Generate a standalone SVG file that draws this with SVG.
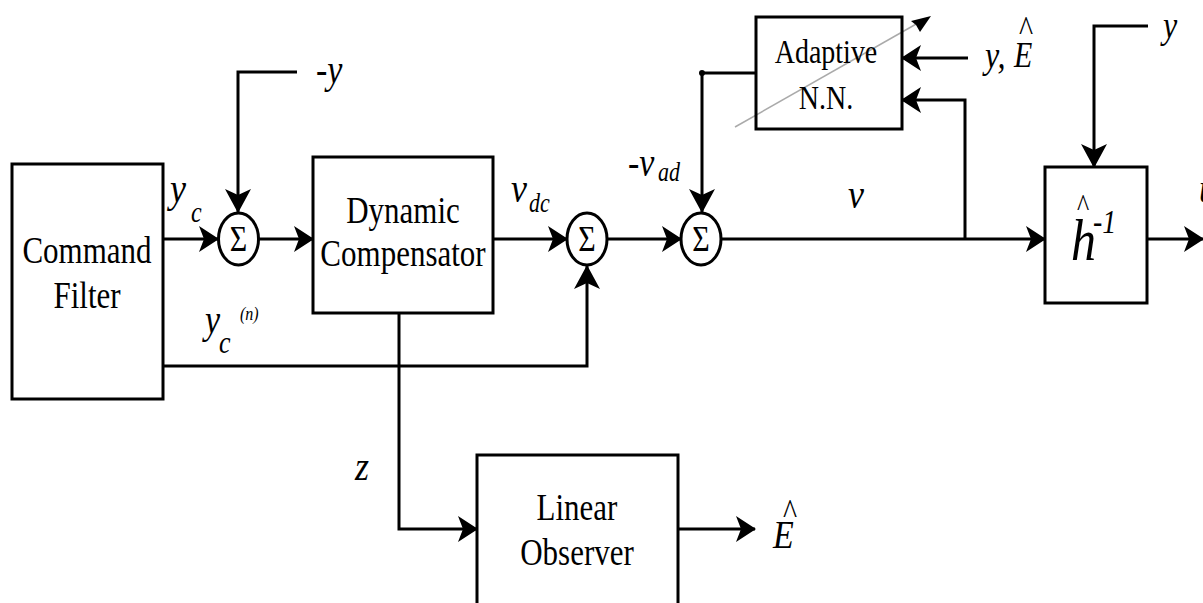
<svg xmlns="http://www.w3.org/2000/svg" width="1203" height="603" viewBox="0 0 1203 603">
<style>
.box{fill:#fff;stroke:#000;stroke-width:3}
.sum{fill:#fff;stroke:#000;stroke-width:3}
.ln{fill:none;stroke:#000;stroke-width:3}
.t{font-family:"Liberation Serif","DejaVu Serif",serif;fill:#000}
.m{text-anchor:middle}
.i{font-style:italic}
</style>
<defs>
<marker id="ah" markerUnits="userSpaceOnUse" markerWidth="20" markerHeight="28" viewBox="0 0 20 28" refX="19" refY="14" orient="auto">
<path d="M0,1 L20,14 L0,27 L5,14 z" fill="#000"/>
</marker>
<marker id="av" markerUnits="userSpaceOnUse" markerWidth="24" markerHeight="28" viewBox="0 0 24 28" refX="23" refY="14" orient="auto">
<path d="M0,1 L24,14 L0,27 L6,14 z" fill="#000"/>
</marker>
</defs>

<g id="connectors">
<path class="ln" d="M163,239 H218" marker-end="url(#ah)"/>
<path class="ln" d="M297,72 H238 V212" marker-end="url(#av)"/>
<path class="ln" d="M259,239 H313" marker-end="url(#ah)"/>
<path class="ln" d="M493,239 H567" marker-end="url(#ah)"/>
<path class="ln" d="M163,366 H587 V266" marker-end="url(#av)"/>
<path class="ln" d="M607,239 H681" marker-end="url(#ah)"/>
<path class="ln" d="M756,73 H702 V212" marker-end="url(#av)"/>
<circle cx="702" cy="73" r="3" fill="#000"/>
<path class="ln" d="M721,239 H1045" marker-end="url(#ah)"/>
<path class="ln" d="M965,239 V100 H902" marker-end="url(#ah)"/>
<path class="ln" d="M968,58 H902" marker-end="url(#ah)"/>
<path class="ln" d="M1148,26 H1094 V167" marker-end="url(#av)"/>
<path class="ln" d="M1147,239 H1203" marker-end="url(#ah)"/>
<path class="ln" d="M399,313 V529 H477" marker-end="url(#ah)"/>
<path class="ln" d="M678,529 H755" marker-end="url(#ah)"/>
<path d="M735,127 L918,23" fill="none" stroke="#aaa" stroke-width="1.5"/>
<path d="M931,16 L920,32 L916,25 L911,21 z" fill="#000"/>
</g>

<g id="command-filter">
<rect class="box" x="12" y="164" width="151" height="235"/>
<text class="t m" font-size="31" transform="translate(87,263) scale(1,1.2)">Command</text>
<text class="t m" font-size="31" transform="translate(87,308) scale(1,1.2)">Filter</text>
</g>

<g id="sum1">
<ellipse class="sum" cx="238.5" cy="239" rx="20" ry="26"/>
<text class="t m" font-size="30" transform="translate(238.5,251) scale(1,1.2)">Σ</text>
</g>

<g id="dynamic-compensator">
<rect class="box" x="313" y="157" width="180" height="156"/>
<text class="t m" font-size="31" transform="translate(403,223) scale(1,1.2)">Dynamic</text>
<text class="t m" font-size="31" transform="translate(403,266) scale(1,1.2)">Compensator</text>
</g>

<g id="sum2">
<ellipse class="sum" cx="587" cy="239" rx="20" ry="26"/>
<text class="t m" font-size="30" transform="translate(587,251) scale(1,1.2)">Σ</text>
</g>

<g id="sum3">
<ellipse class="sum" cx="701" cy="239" rx="20" ry="26"/>
<text class="t m" font-size="30" transform="translate(701,251) scale(1,1.2)">Σ</text>
</g>

<g id="adaptive-nn">
<rect class="box" x="756" y="17" width="146" height="112" fill-opacity="0"/>
<text class="t m" font-size="28" transform="translate(826,63) scale(1,1.2)">Adaptive</text>
<text class="t m" font-size="28" transform="translate(826,109) scale(1,1.2)">N.N.</text>
</g>

<g id="h-inverse">
<rect class="box" x="1045" y="167" width="102" height="136"/>
<text class="t i" font-size="50" transform="translate(1071,260) scale(1,1.2)">h</text>
<text class="t m" font-size="26" transform="translate(1083,216) scale(1,1.2)">^</text>
<text class="t i" font-size="28" transform="translate(1093,233) scale(1,1.2)">-1</text>
</g>

<g id="linear-observer">
<rect class="box" x="477" y="455" width="201" height="160"/>
<text class="t m" font-size="31" transform="translate(577,520) scale(1,1.2)">Linear</text>
<text class="t m" font-size="31" transform="translate(577,565) scale(1,1.2)">Observer</text>
</g>

<g id="labels">
<text class="t i" font-size="36" transform="translate(170,202) scale(1,1.2)">y</text>
<text class="t i" font-size="24" transform="translate(191,222) scale(1,1.2)">c</text>
<text class="t i" font-size="34" transform="translate(316,83) scale(1,1.2)">-y</text>
<text class="t i" font-size="34" transform="translate(205,333) scale(1,1.2)">y</text>
<text class="t i" font-size="26" transform="translate(219,353) scale(1,1.2)">c</text>
<text class="t i" font-size="16" transform="translate(240,320) scale(1,1.2)">(n)</text>
<text class="t i" font-size="36" transform="translate(511,202) scale(1,1.2)">v</text>
<text class="t i" font-size="22" transform="translate(529,212) scale(1,1.2)">dc</text>
<text class="t i" font-size="34" transform="translate(628,176) scale(1,1.2)">-v</text>
<text class="t i" font-size="22" transform="translate(658,181) scale(1,1.2)">ad</text>
<text class="t i" font-size="36" transform="translate(848,208) scale(1,1.2)">v</text>
<text class="t i" font-size="32" transform="translate(985,68) scale(1,1.2)">y,</text>
<text class="t i" font-size="30" transform="translate(1014,67) scale(1,1.2)">E</text>
<text class="t m" font-size="30" transform="translate(1026,41) scale(1,1.2)">^</text>
<text class="t i" font-size="32" transform="translate(1163,38) scale(1,1.2)">y</text>
<text class="t i" font-size="36" transform="translate(355,480) scale(1,1.2)">z</text>
<text class="t i" font-size="34" transform="translate(773,548) scale(1,1.2)">E</text>
<text class="t m" font-size="30" transform="translate(790,524) scale(1,1.2)">^</text>
<text class="t i" font-size="34" transform="translate(1199,202) scale(1,1.2)">u</text>
</g>
</svg>
